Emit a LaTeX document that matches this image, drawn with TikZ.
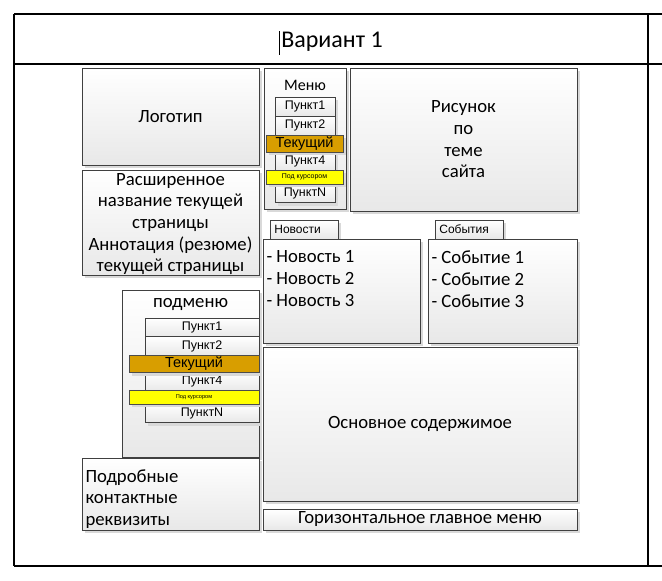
\documentclass[tikz,border=0pt]{standalone}
\usepackage{fontspec}
\setmainfont{Carlito}
\newfontfamily\itemfont{Liberation Sans}
\usetikzlibrary{shadows}
\definecolor{curorange}{HTML}{D89E00}
\definecolor{hoveryellow}{HTML}{FFFF00}
\definecolor{edgegray}{HTML}{404040}
\definecolor{shadowgray}{HTML}{D9D9D9}
\begin{document}
\begin{tikzpicture}[x=1pt,y=-1pt,
    wbox/.style={draw=edgegray, line width=0.8pt, top color=white, bottom color=black!9,
        drop shadow={shadow xshift=3pt, shadow yshift=-3pt, fill=shadowgray, opacity=1},
        inner sep=0pt, font=\fontsize{18.7}{21.7}\selectfont},
    item/.style={wbox, font=\itemfont\fontsize{12.5}{14}\selectfont, minimum height=19pt},
    cur/.style={item, top color=curorange, bottom color=curorange, draw=black!70, minimum height=17pt,
        font=\itemfont\fontsize{14.5}{16}\selectfont},
    hover/.style={item, top color=hoveryellow, bottom color=hoveryellow, draw=black!70,
        font=\itemfont\fontsize{7}{8}\selectfont, minimum height=14pt},
    tab/.style={item, font=\itemfont\fontsize{12}{14}\selectfont, minimum width=68pt, anchor=west,
        align=left, text width=60pt},
    label/.style={font=\fontsize{16}{18}\selectfont},
    list/.style={anchor=north west, align=left, font=\fontsize{18.7}{22}\selectfont}]
    \useasboundingbox (0,0) rectangle (662,581);
    %draw frame
    \draw[line width=1.1pt] (14,14) -- (14,566);
    \draw[line width=1.1pt] (648,14) -- (648,566);
    \foreach \y in {14,64,566}
        {%
            \draw[line width=1.1pt] (14,\y) -- (662,\y);
        }
    \node[font=\fontsize{24}{28}\selectfont] (title) at (332,42) {Вариант 1};
    \draw[line width=0.6pt] (279,31) -- (279,55);
    %draw left column
    \node[wbox, minimum width=177pt, minimum height=97pt] (logo) at (170.5,116.5) {Логотип};
    \node[wbox, minimum width=177pt, minimum height=105pt, align=center, text depth=0pt] (pagename) at (170.5,222.5)
        {Расширенное\\название текущей\\страницы\\Аннотация (резюме)\\текущей страницы};
    \node[wbox, minimum width=137pt, minimum height=167pt] (submenu) at (190.5,373.5) {};
    \node[label, font=\fontsize{18.7}{20}\selectfont] (submenutitle) at (190.5,304) {подменю};
    \foreach \t/\yy [count=\i] in {Пункт1/327.5, Пункт2/346, Пункт4/381.5, ПунктN/413}
        {%
            \node[item, minimum width=114pt] (sub\i) at (202,\yy) {\t};
        }
    \node[cur, minimum width=130pt] (subcur) at (194,364) {Текущий};
    \node[hover, minimum width=130pt, font=\itemfont\fontsize{5.6}{7}\selectfont] (subhover) at (194,397) {Под курсором};
    \node[wbox, minimum width=177pt, minimum height=72pt] (contacts) at (170.5,494) {};
    \node[list, font=\fontsize{18.7}{21.5}\selectfont] (contactlist) at (82,466) {Подробные\\контактные\\реквизиты};
    %draw top menu
    \node[wbox, minimum width=82pt, minimum height=141pt] (menu) at (305,138.5) {};
    \node[label] (menutitle) at (305,85) {Меню};
    \foreach \t/\yy [count=\i] in {Пункт1/106.5, Пункт2/125.5, Пункт4/161, ПунктN/193}
        {%
            \node[item, minimum width=60pt] (menu\i) at (305,\yy) {\t};
        }
    \node[cur, minimum width=77pt] (menucur) at (304.5,143.5) {Текущий};
    \node[hover, minimum width=77pt] (menuhover) at (304.5,177) {Под курсором};
    %draw right part
    \node[wbox, minimum width=227pt, minimum height=143pt, align=center] (picture) at (463.5,139.5)
        {Рисунок\\по\\теме\\сайта};
    \node[tab] (newstab) at (270,229.5) {Новости};
    \node[tab] (eventstab) at (435,229.5) {События};
    \node[wbox, minimum width=157pt, minimum height=104pt] (news) at (341.5,291) {};
    \node[wbox, minimum width=149pt, minimum height=104pt] (events) at (502.5,291) {};
    \node[list] (newslist) at (263,247) {- Новость 1\\- Новость 2\\- Новость 3};
    \node[list] (eventslist) at (428,247) {- Событие 1\\- Событие 2\\- Событие 3};
    \node[wbox, minimum width=314pt, minimum height=154pt] (content) at (420,424) {Основное содержимое};
    \node[wbox, minimum width=314pt, minimum height=21pt] (hmenu) at (420,519.5) {Горизонтальное главное меню};
\end{tikzpicture}
\end{document}
